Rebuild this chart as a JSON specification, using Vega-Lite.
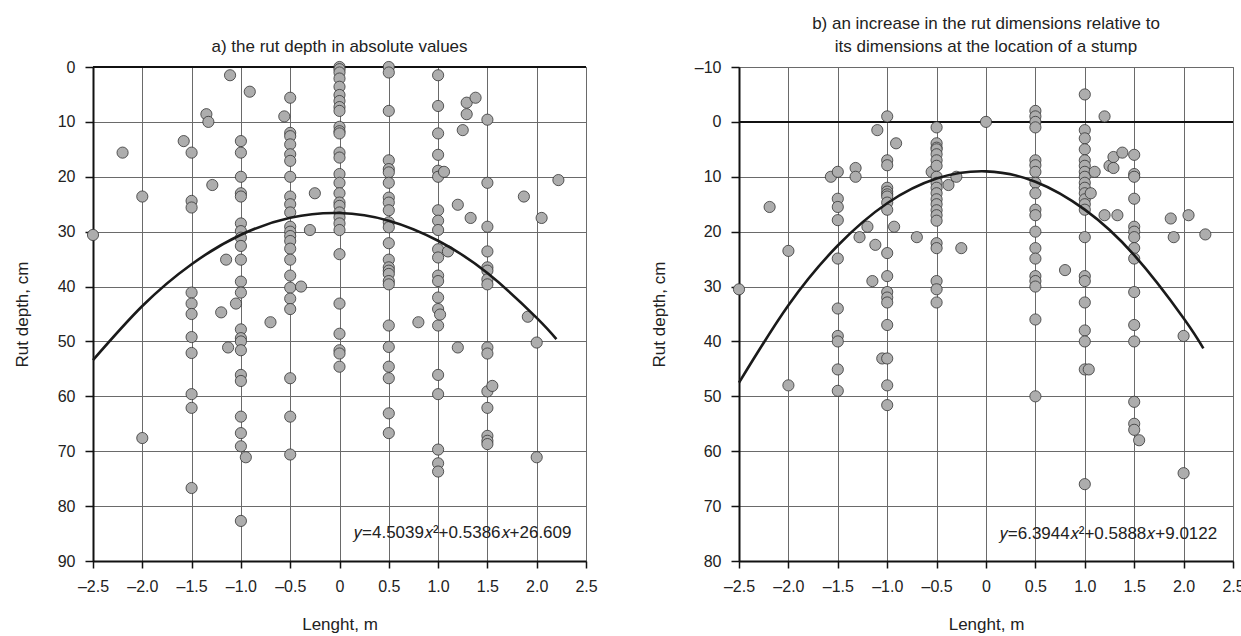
{
  "$schema": "https://vega.github.io/schema/vega-lite/v6.json",
  "background": "white",
  "padding": {"left": 12, "top": 14, "right": 0, "bottom": 0},
  "config": {
    "font": "Liberation Sans, Arial",
    "view": {"stroke": "#6e6e6e", "strokeWidth": 1},
    "axis": {
      "grid": true,
      "gridColor": "#6a6a6a",
      "gridOpacity": 1,
      "gridWidth": 1,
      "domainColor": "#111111",
      "domainWidth": 2,
      "tickColor": "#111111",
      "tickWidth": 1.5,
      "labelFontSize": 16,
      "labelColor": "#222222",
      "titleFontSize": 17,
      "titleFontWeight": "normal",
      "titleColor": "#222222"
    },
    "title": {"fontSize": 17, "fontWeight": "normal", "color": "#222222", "offset": 3, "lineHeight": 23}
  },
  "datasets": {
    "a_points": [
      {"x": -2.5, "y": 30.6}, {"x": -2.2, "y": 15.6}, {"x": -2.0, "y": 23.6}, {"x": -2.0, "y": 67.6},
      {"x": -1.58, "y": 13.5},
      {"x": -1.5, "y": 15.6}, {"x": -1.5, "y": 24.4}, {"x": -1.5, "y": 25.6}, {"x": -1.5, "y": 41.1}, {"x": -1.5, "y": 43.1}, {"x": -1.5, "y": 45.0}, {"x": -1.5, "y": 49.2}, {"x": -1.5, "y": 52.1}, {"x": -1.5, "y": 59.6}, {"x": -1.5, "y": 62.1}, {"x": -1.5, "y": 76.7},
      {"x": -1.35, "y": 8.6}, {"x": -1.33, "y": 10.0}, {"x": -1.29, "y": 21.5}, {"x": -1.2, "y": 44.7}, {"x": -1.15, "y": 35.1}, {"x": -1.13, "y": 51.1}, {"x": -1.11, "y": 1.5}, {"x": -1.05, "y": 43.1},
      {"x": -1.0, "y": 13.5}, {"x": -1.0, "y": 15.6}, {"x": -1.0, "y": 20.0}, {"x": -1.0, "y": 23.0}, {"x": -1.0, "y": 23.6}, {"x": -1.0, "y": 28.5}, {"x": -1.0, "y": 29.9}, {"x": -1.0, "y": 31.1}, {"x": -1.0, "y": 32.6}, {"x": -1.0, "y": 35.1}, {"x": -1.0, "y": 39.1}, {"x": -1.0, "y": 41.1}, {"x": -1.0, "y": 47.8}, {"x": -1.0, "y": 49.4}, {"x": -1.0, "y": 50.0}, {"x": -1.0, "y": 51.6}, {"x": -1.0, "y": 56.1}, {"x": -1.0, "y": 57.2}, {"x": -1.0, "y": 63.7}, {"x": -1.0, "y": 66.7}, {"x": -1.0, "y": 69.1}, {"x": -1.0, "y": 82.7},
      {"x": -0.95, "y": 71.1}, {"x": -0.91, "y": 4.5}, {"x": -0.7, "y": 46.5}, {"x": -0.56, "y": 9.0},
      {"x": -0.5, "y": 5.6}, {"x": -0.5, "y": 12.0}, {"x": -0.5, "y": 12.6}, {"x": -0.5, "y": 14.1}, {"x": -0.5, "y": 15.9}, {"x": -0.5, "y": 17.1}, {"x": -0.5, "y": 20.0}, {"x": -0.5, "y": 23.6}, {"x": -0.5, "y": 25.0}, {"x": -0.5, "y": 26.5}, {"x": -0.5, "y": 29.1}, {"x": -0.5, "y": 30.0}, {"x": -0.5, "y": 30.8}, {"x": -0.5, "y": 31.7}, {"x": -0.5, "y": 33.1}, {"x": -0.5, "y": 35.1}, {"x": -0.5, "y": 38.0}, {"x": -0.5, "y": 40.2}, {"x": -0.5, "y": 42.2}, {"x": -0.5, "y": 44.1}, {"x": -0.5, "y": 56.7}, {"x": -0.5, "y": 63.7}, {"x": -0.5, "y": 70.6},
      {"x": -0.39, "y": 40.0}, {"x": -0.3, "y": 29.7}, {"x": -0.25, "y": 23.0},
      {"x": 0, "y": 0}, {"x": 0, "y": 0.4}, {"x": 0, "y": 1.0}, {"x": 0, "y": 2.1}, {"x": 0, "y": 3.6}, {"x": 0, "y": 5.1}, {"x": 0, "y": 6.2}, {"x": 0, "y": 7.3}, {"x": 0, "y": 8.0}, {"x": 0, "y": 10.9}, {"x": 0, "y": 11.7}, {"x": 0, "y": 12.1}, {"x": 0, "y": 15.6}, {"x": 0, "y": 16.5}, {"x": 0, "y": 19.5}, {"x": 0, "y": 21.1}, {"x": 0, "y": 23.0}, {"x": 0, "y": 24.7}, {"x": 0, "y": 25.3}, {"x": 0, "y": 26.5}, {"x": 0, "y": 27.4}, {"x": 0, "y": 28.5}, {"x": 0, "y": 29.7}, {"x": 0, "y": 34.1}, {"x": 0, "y": 43.1}, {"x": 0, "y": 48.6}, {"x": 0, "y": 51.6}, {"x": 0, "y": 52.2}, {"x": 0, "y": 54.6},
      {"x": 0.5, "y": 0}, {"x": 0.5, "y": 1.0}, {"x": 0.5, "y": 8.0}, {"x": 0.5, "y": 17.0}, {"x": 0.5, "y": 18.6}, {"x": 0.5, "y": 19.2}, {"x": 0.5, "y": 21.1}, {"x": 0.5, "y": 23.8}, {"x": 0.5, "y": 24.7}, {"x": 0.5, "y": 26.1}, {"x": 0.5, "y": 28.3}, {"x": 0.5, "y": 29.2}, {"x": 0.5, "y": 32.1}, {"x": 0.5, "y": 35.1}, {"x": 0.5, "y": 36.5}, {"x": 0.5, "y": 37.1}, {"x": 0.5, "y": 37.7}, {"x": 0.5, "y": 39.0}, {"x": 0.5, "y": 39.6}, {"x": 0.5, "y": 47.1}, {"x": 0.5, "y": 51.0}, {"x": 0.5, "y": 54.6}, {"x": 0.5, "y": 56.7}, {"x": 0.5, "y": 63.1}, {"x": 0.5, "y": 66.7},
      {"x": 0.8, "y": 46.5},
      {"x": 1.0, "y": 1.5}, {"x": 1.0, "y": 7.1}, {"x": 1.0, "y": 12.1}, {"x": 1.0, "y": 16.0}, {"x": 1.0, "y": 18.9}, {"x": 1.0, "y": 20.0}, {"x": 1.0, "y": 26.1}, {"x": 1.0, "y": 28.0}, {"x": 1.0, "y": 29.7}, {"x": 1.0, "y": 33.2}, {"x": 1.0, "y": 34.7}, {"x": 1.0, "y": 38.0}, {"x": 1.0, "y": 39.0}, {"x": 1.0, "y": 42.0}, {"x": 1.0, "y": 44.1}, {"x": 1.0, "y": 47.1}, {"x": 1.0, "y": 56.1}, {"x": 1.0, "y": 59.6}, {"x": 1.0, "y": 69.7}, {"x": 1.0, "y": 72.2}, {"x": 1.0, "y": 73.7},
      {"x": 1.02, "y": 45.1}, {"x": 1.06, "y": 19.1}, {"x": 1.1, "y": 33.6}, {"x": 1.2, "y": 25.1}, {"x": 1.2, "y": 51.1}, {"x": 1.25, "y": 11.5}, {"x": 1.29, "y": 6.5}, {"x": 1.29, "y": 8.6}, {"x": 1.38, "y": 5.6}, {"x": 1.33, "y": 27.5},
      {"x": 1.5, "y": 9.6}, {"x": 1.5, "y": 21.1}, {"x": 1.5, "y": 29.1}, {"x": 1.5, "y": 33.6}, {"x": 1.5, "y": 36.5}, {"x": 1.5, "y": 37.1}, {"x": 1.5, "y": 38.7}, {"x": 1.5, "y": 39.6}, {"x": 1.5, "y": 51.1}, {"x": 1.5, "y": 52.2}, {"x": 1.5, "y": 59.1}, {"x": 1.5, "y": 62.1}, {"x": 1.5, "y": 67.2}, {"x": 1.5, "y": 68.1}, {"x": 1.5, "y": 68.7},
      {"x": 1.55, "y": 58.1}, {"x": 1.87, "y": 23.6}, {"x": 1.91, "y": 45.5}, {"x": 2.0, "y": 50.2}, {"x": 2.0, "y": 71.1}, {"x": 2.05, "y": 27.5}, {"x": 2.22, "y": 20.6}
    ],
    "b_points": [
      {"x": -2.5, "y": 30.5}, {"x": -2.19, "y": 15.5}, {"x": -2.0, "y": 23.5}, {"x": -2.0, "y": 48.0}, {"x": -1.57, "y": 10.0},
      {"x": -1.5, "y": 9.1}, {"x": -1.5, "y": 14.0}, {"x": -1.5, "y": 15.5}, {"x": -1.5, "y": 17.9}, {"x": -1.5, "y": 24.9}, {"x": -1.5, "y": 34.0}, {"x": -1.5, "y": 39.0}, {"x": -1.5, "y": 40.0}, {"x": -1.5, "y": 45.1}, {"x": -1.5, "y": 49.0},
      {"x": -1.32, "y": 8.4}, {"x": -1.32, "y": 10.0}, {"x": -1.28, "y": 21.0}, {"x": -1.2, "y": 19.1}, {"x": -1.15, "y": 29.0}, {"x": -1.12, "y": 22.4}, {"x": -1.1, "y": 1.5}, {"x": -1.05, "y": 43.1}, {"x": -0.93, "y": 19.1}, {"x": -0.91, "y": 3.9},
      {"x": -1.0, "y": -1.0}, {"x": -1.0, "y": 7.0}, {"x": -1.0, "y": 7.9}, {"x": -1.0, "y": 12.0}, {"x": -1.0, "y": 12.7}, {"x": -1.0, "y": 13.2}, {"x": -1.0, "y": 13.6}, {"x": -1.0, "y": 14.7}, {"x": -1.0, "y": 16.0}, {"x": -1.0, "y": 23.9}, {"x": -1.0, "y": 28.1}, {"x": -1.0, "y": 31.0}, {"x": -1.0, "y": 32.0}, {"x": -1.0, "y": 32.9}, {"x": -1.0, "y": 37.0}, {"x": -1.0, "y": 43.1}, {"x": -1.0, "y": 48.0}, {"x": -1.0, "y": 51.6},
      {"x": -0.7, "y": 21.0}, {"x": -0.55, "y": 9.1},
      {"x": -0.5, "y": 1.0}, {"x": -0.5, "y": 3.9}, {"x": -0.5, "y": 4.7}, {"x": -0.5, "y": 5.0}, {"x": -0.5, "y": 5.9}, {"x": -0.5, "y": 7.0}, {"x": -0.5, "y": 8.0}, {"x": -0.5, "y": 10.0}, {"x": -0.5, "y": 11.1}, {"x": -0.5, "y": 12.0}, {"x": -0.5, "y": 13.0}, {"x": -0.5, "y": 14.1}, {"x": -0.5, "y": 15.0}, {"x": -0.5, "y": 16.1}, {"x": -0.5, "y": 17.0}, {"x": -0.5, "y": 18.0}, {"x": -0.5, "y": 22.1}, {"x": -0.5, "y": 23.0}, {"x": -0.5, "y": 29.0}, {"x": -0.5, "y": 30.5}, {"x": -0.5, "y": 32.9},
      {"x": -0.38, "y": 11.5}, {"x": -0.3, "y": 10.0}, {"x": -0.25, "y": 23.0}, {"x": 0, "y": 0},
      {"x": 0.5, "y": -2.0}, {"x": 0.5, "y": -1.0}, {"x": 0.5, "y": 0}, {"x": 0.5, "y": 1.0}, {"x": 0.5, "y": 7.0}, {"x": 0.5, "y": 7.9}, {"x": 0.5, "y": 9.1}, {"x": 0.5, "y": 11.1}, {"x": 0.5, "y": 13.0}, {"x": 0.5, "y": 16.0}, {"x": 0.5, "y": 17.0}, {"x": 0.5, "y": 20.0}, {"x": 0.5, "y": 23.0}, {"x": 0.5, "y": 24.9}, {"x": 0.5, "y": 28.1}, {"x": 0.5, "y": 29.0}, {"x": 0.5, "y": 30.0}, {"x": 0.5, "y": 36.0}, {"x": 0.5, "y": 50.0},
      {"x": 0.8, "y": 27.0},
      {"x": 1.0, "y": -5.0}, {"x": 1.0, "y": 1.5}, {"x": 1.0, "y": 3.0}, {"x": 1.0, "y": 5.0}, {"x": 1.0, "y": 7.0}, {"x": 1.0, "y": 8.0}, {"x": 1.0, "y": 9.1}, {"x": 1.0, "y": 10.0}, {"x": 1.0, "y": 11.1}, {"x": 1.0, "y": 12.0}, {"x": 1.0, "y": 13.0}, {"x": 1.0, "y": 14.1}, {"x": 1.0, "y": 15.0}, {"x": 1.0, "y": 16.0}, {"x": 1.0, "y": 21.0}, {"x": 1.0, "y": 28.1}, {"x": 1.0, "y": 29.0}, {"x": 1.0, "y": 32.9}, {"x": 1.0, "y": 38.0}, {"x": 1.0, "y": 40.0}, {"x": 1.0, "y": 45.1}, {"x": 1.0, "y": 66.0},
      {"x": 1.04, "y": 45.1}, {"x": 1.06, "y": 13.0}, {"x": 1.1, "y": 9.1}, {"x": 1.2, "y": -1.0}, {"x": 1.2, "y": 17.0}, {"x": 1.25, "y": 8.0}, {"x": 1.29, "y": 6.4}, {"x": 1.29, "y": 8.4}, {"x": 1.33, "y": 17.0}, {"x": 1.38, "y": 5.6},
      {"x": 1.5, "y": 6.0}, {"x": 1.5, "y": 9.5}, {"x": 1.5, "y": 10.0}, {"x": 1.5, "y": 14.0}, {"x": 1.5, "y": 19.1}, {"x": 1.5, "y": 20.0}, {"x": 1.5, "y": 21.0}, {"x": 1.5, "y": 23.0}, {"x": 1.5, "y": 24.9}, {"x": 1.5, "y": 31.0}, {"x": 1.5, "y": 37.0}, {"x": 1.5, "y": 40.0}, {"x": 1.5, "y": 51.0}, {"x": 1.5, "y": 55.0}, {"x": 1.5, "y": 56.1},
      {"x": 1.55, "y": 58.0}, {"x": 1.87, "y": 17.6}, {"x": 1.9, "y": 21.0}, {"x": 2.0, "y": 39.0}, {"x": 2.0, "y": 64.0}, {"x": 2.05, "y": 17.0}, {"x": 2.22, "y": 20.5}
    ],
    "a_curve": [
      {"x": -2.5, "y": 53.4}, {"x": -2.0, "y": 43.55}, {"x": -1.5, "y": 35.93}, {"x": -1.0, "y": 30.57}, {"x": -0.5, "y": 27.47}, {"x": 0, "y": 26.61}, {"x": 0.5, "y": 28.0}, {"x": 1.0, "y": 31.65}, {"x": 1.5, "y": 37.55}, {"x": 2.0, "y": 45.7}, {"x": 2.2, "y": 49.59}
    ],
    "b_curve": [
      {"x": -2.5, "y": 47.51}, {"x": -2.0, "y": 33.41}, {"x": -1.5, "y": 22.52}, {"x": -1.0, "y": 14.82}, {"x": -0.5, "y": 10.32}, {"x": 0, "y": 9.01}, {"x": 0.5, "y": 10.9}, {"x": 1.0, "y": 15.99}, {"x": 1.5, "y": 24.28}, {"x": 2.0, "y": 35.77}, {"x": 2.2, "y": 41.26}
    ]
  },
  "spacing": 51,
  "hconcat": [
    {
      "width": 493,
      "height": 494,
      "title": {"text": "a) the rut depth in absolute values"},
      "encoding": {
        "x": {"field": "x", "type": "quantitative", "scale": {"domain": [-2.5, 2.5], "nice": false, "zero": false},
          "axis": {"title": "Lenght, m", "values": [-2.5, -2, -1.5, -1, -0.5, 0, 0.5, 1, 1.5, 2, 2.5], "tickSize": 7, "labelPadding": 10, "titlePadding": 22, "labelFlush": false, "labelOverlap": false,
            "labelExpr": "datum.value < 0 ? '–' + format(-datum.value, '.1f') : (datum.value == 0 ? '0' : format(datum.value, '.1f'))"}},
        "y": {"field": "y", "type": "quantitative", "scale": {"domain": [0, 90], "reverse": true, "nice": false, "zero": false},
          "axis": {"title": "Rut depth, cm", "values": [0, 10, 20, 30, 40, 50, 60, 70, 80, 90], "tickSize": 8, "labelPadding": 10, "titlePadding": 26, "labelFlush": false,
            "labelExpr": "datum.value < 0 ? '–' + format(-datum.value, 'd') : format(datum.value, 'd')"}}
      },
      "layer": [
        {"data": {"values": [{"y": 0}]}, "mark": {"type": "rule", "color": "#111111", "strokeWidth": 2}, "encoding": {"x": null}},
        {"data": {"name": "a_points"}, "mark": {"type": "circle", "size": 125, "fill": "#adadad", "stroke": "#333333", "strokeWidth": 0.8, "opacity": 1}},
        {"data": {"name": "a_curve"}, "mark": {"type": "line", "interpolate": "natural", "color": "#1a1a1a", "strokeWidth": 2.6}},
        {"data": {"values": [{"x": 1.25, "y": 84.9, "label": "𝑦=4.5039𝑥²+0.5386𝑥+26.609"}]}, "mark": {"type": "text", "fontSize": 17, "color": "#222222", "align": "center", "baseline": "middle"}, "encoding": {"text": {"field": "label"}}}
      ]
    },
    {
      "width": 494,
      "height": 494,
      "title": {"text": ["b) an increase in the rut dimensions relative to", "its dimensions at the location of a stump"]},
      "encoding": {
        "x": {"field": "x", "type": "quantitative", "scale": {"domain": [-2.5, 2.5], "nice": false, "zero": false},
          "axis": {"title": "Lenght, m", "values": [-2.5, -2, -1.5, -1, -0.5, 0, 0.5, 1, 1.5, 2, 2.5], "tickSize": 7, "labelPadding": 10, "titlePadding": 22, "labelFlush": false, "labelOverlap": false,
            "labelExpr": "datum.value < 0 ? '–' + format(-datum.value, '.1f') : (datum.value == 0 ? '0' : format(datum.value, '.1f'))"}},
        "y": {"field": "y", "type": "quantitative", "scale": {"domain": [-10, 80], "reverse": true, "nice": false, "zero": false},
          "axis": {"title": "Rut depth, cm", "values": [-10, 0, 10, 20, 30, 40, 50, 60, 70, 80], "tickSize": 8, "labelPadding": 10, "titlePadding": 26, "labelFlush": false,
            "labelExpr": "datum.value < 0 ? '–' + format(-datum.value, 'd') : format(datum.value, 'd')"}}
      },
      "layer": [
        {"data": {"values": [{"y": 0}]}, "mark": {"type": "rule", "color": "#111111", "strokeWidth": 2}, "encoding": {"x": null}},
        {"data": {"name": "b_points"}, "mark": {"type": "circle", "size": 125, "fill": "#adadad", "stroke": "#333333", "strokeWidth": 0.8, "opacity": 1}},
        {"data": {"name": "b_curve"}, "mark": {"type": "line", "interpolate": "natural", "color": "#1a1a1a", "strokeWidth": 2.6}},
        {"data": {"values": [{"x": 1.24, "y": 75.0, "label": "𝑦=6.3944𝑥²+0.5888𝑥+9.0122"}]}, "mark": {"type": "text", "fontSize": 17, "color": "#222222", "align": "center", "baseline": "middle"}, "encoding": {"text": {"field": "label"}}}
      ]
    }
  ]
}
